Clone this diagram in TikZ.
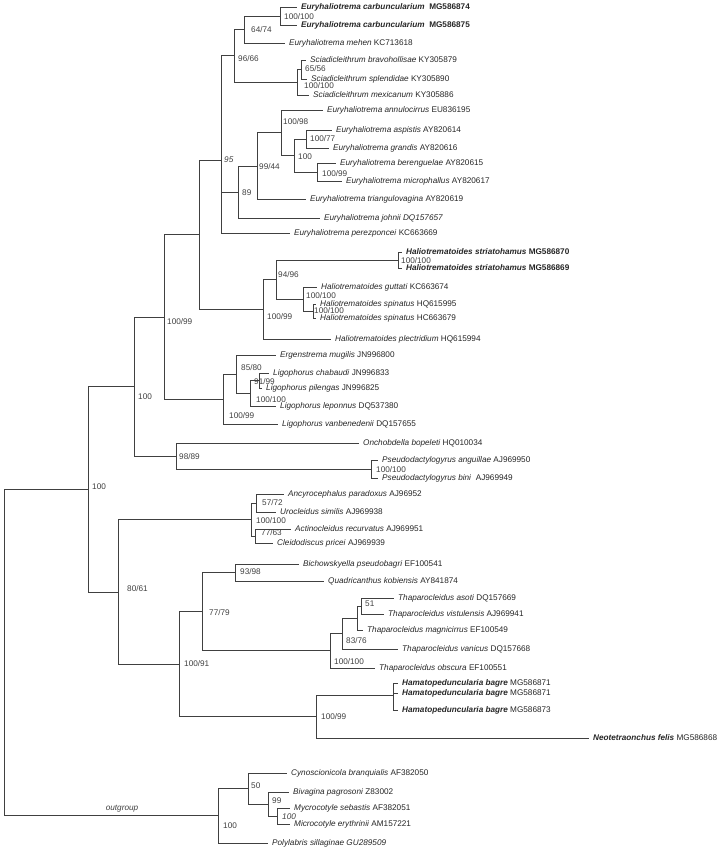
\documentclass[tikz,border=0pt]{standalone}
\usepackage{fontspec}
\setmainfont{Liberation Sans}

\begin{document}
\begin{tikzpicture}[x=1pt, y=-1pt,
    branch/.style={draw=black!75, line width=0.8pt},
    taxon/.style={anchor=west, inner xsep=4pt, inner ysep=0pt, text height=6pt, text depth=1.6pt, text=black!85, font=\fontsize{8.2}{9.8}\selectfont},
    support/.style={anchor=west, inner sep=0pt, text height=6pt, text depth=1.6pt, text=black!75, font=\fontsize{8.2}{9.8}\selectfont}]

    \useasboundingbox (0,0) rectangle (726,851);

    \node[taxon] (carb74) at (297,7) {\textbf{\textit{Euryhaliotrema carbuncularium}\ \ MG586874}};
    \node[taxon] (carb75) at (297,25) {\textbf{\textit{Euryhaliotrema carbuncularium}\ \ MG586875}};
    \node[taxon] (mehen) at (285,43) {\textit{Euryhaliotrema mehen} KC713618};
    \node[taxon] (bravo) at (306,60) {\textit{Sciadicleithrum bravohollisae} KY305879};
    \node[taxon] (splend) at (307,79) {\textit{Sciadicleithrum splendidae} KY305890};
    \node[taxon] (mexic) at (309,95) {\textit{Sciadicleithrum mexicanum} KY305886};
    \node[taxon] (annulo) at (323,110) {\textit{Euryhaliotrema annulocirrus} EU836195};
    \node[taxon] (aspist) at (332,130) {\textit{Euryhaliotrema aspistis} AY820614};
    \node[taxon] (grand) at (329,148) {\textit{Euryhaliotrema grandis} AY820616};
    \node[taxon] (bereng) at (336,163) {\textit{Euryhaliotrema berenguelae} AY820615};
    \node[taxon] (microph) at (342,181) {\textit{Euryhaliotrema microphallus} AY820617};
    \node[taxon] (triang) at (306,199) {\textit{Euryhaliotrema triangulovagina} AY820619};
    \node[taxon] (johnii) at (320,218) {\textit{Euryhaliotrema johnii DQ157657}};
    \node[taxon] (perez) at (290,233) {\textit{Euryhaliotrema perezponcei} KC663669};
    \node[taxon] (stri70) at (402,252) {\textbf{\textit{Haliotrematoides striatohamus} MG586870}};
    \node[taxon] (stri69) at (402,268) {\textbf{\textit{Haliotrematoides striatohamus} MG586869}};
    \node[taxon] (guttati) at (317,287) {\textit{Haliotrematoides guttati} KC663674};
    \node[taxon] (spin95) at (316,304) {\textit{Haliotrematoides spinatus} HQ615995};
    \node[taxon] (spin79) at (316,318) {\textit{Haliotrematoides spinatus} HC663679};
    \node[taxon] (plect) at (331,339) {\textit{Haliotrematoides plectridium} HQ615994};
    \node[taxon] (mugil) at (276,355) {\textit{Ergenstrema mugilis} JN996800};
    \node[taxon] (chabau) at (269,373) {\textit{Ligophorus chabaudi} JN996833};
    \node[taxon] (pileng) at (262,388) {\textit{Ligophorus pilengas} JN996825};
    \node[taxon] (lepon) at (276,406) {\textit{Ligophorus leponnus} DQ537380};
    \node[taxon] (vanben) at (278,424) {\textit{Ligophorus vanbenedenii} DQ157655};
    \node[taxon] (oncho) at (359,443) {\textit{Onchobdella bopeleti} HQ010034};
    \node[taxon] (anguil) at (378,460) {\textit{Pseudodactylogyrus anguillae} AJ969950};
    \node[taxon] (bini) at (378,478) {\textit{Pseudodactylogyrus bini}\ \ AJ969949};
    \node[taxon] (ancyro) at (284,494) {\textit{Ancyrocephalus paradoxus} AJ96952};
    \node[taxon] (urocl) at (276,512) {\textit{Urocleidus similis} AJ969938};
    \node[taxon] (actino) at (291,529) {\textit{Actinocleidus recurvatus} AJ969951};
    \node[taxon] (cleido) at (273,543) {\textit{Cleidodiscus pricei} AJ969939};
    \node[taxon] (bichow) at (299,564) {\textit{Bichowskyella pseudobagri} EF100541};
    \node[taxon] (quadri) at (324,581) {\textit{Quadricanthus kobiensis} AY841874};
    \node[taxon] (asoti) at (394,598) {\textit{Thaparocleidus asoti} DQ157669};
    \node[taxon] (vistul) at (384,614) {\textit{Thaparocleidus vistulensis} AJ969941};
    \node[taxon] (magnic) at (363,630) {\textit{Thaparocleidus magnicirrus} EF100549};
    \node[taxon] (vanic) at (398,649) {\textit{Thaparocleidus vanicus} DQ157668};
    \node[taxon] (obscura) at (375,668) {\textit{Thaparocleidus obscura} EF100551};
    \node[taxon] (hama71a) at (398,683) {\textbf{\textit{Hamatopeduncularia bagre}} MG586871};
    \node[taxon] (hama71b) at (398,693) {\textbf{\textit{Hamatopeduncularia bagre}} MG586871};
    \node[taxon] (hama73) at (398,710) {\textbf{\textit{Hamatopeduncularia bagre}} MG586873};
    \node[taxon] (neotet) at (589,738) {\textbf{\textit{Neotetraonchus felis}} MG586868};
    \node[taxon] (cynosc) at (287,773) {\textit{Cynoscionicola branquialis} AF382050};
    \node[taxon] (bivag) at (289,792) {\textit{Bivagina pagrosoni} Z83002};
    \node[taxon] (mycro) at (290,808) {\textit{Mycrocotyle sebastis} AF382051};
    \node[taxon] (microc) at (290,824) {\textit{Microcotyle erythrinii} AM157221};
    \node[taxon] (polyl) at (268,843) {\textit{Polylabris sillaginae GU289509}};

    \coordinate (n100a) at (280,16);
    \coordinate (n6474) at (244,29.5);
    \coordinate (nsc6556) at (301,69.5);
    \coordinate (nsc100) at (297,82.3);
    \coordinate (n9666) at (234,55.9);
    \coordinate (n10077) at (306,139);
    \coordinate (n10099e) at (317,172);
    \coordinate (n100e) at (294,155.5);
    \coordinate (n10098) at (281,132.8);
    \coordinate (n9944) at (257,165.9);
    \coordinate (n89) at (238,192);
    \coordinate (n95) at (221,160.3);
    \coordinate (nstri) at (398,260);
    \coordinate (nspin) at (313,311);
    \coordinate (ngutt) at (303,299);
    \coordinate (n9496) at (276,279.5);
    \coordinate (n10099h) at (263,309.3);
    \coordinate (nhalio) at (199,234.8);
    \coordinate (n9199) at (259,380.5);
    \coordinate (n100100l) at (250,393.3);
    \coordinate (n8580) at (236,374.1);
    \coordinate (n10099l) at (223,399);
    \coordinate (n10099b) at (164,316.9);
    \coordinate (npseudo) at (371,469);
    \coordinate (n9889) at (176,456);
    \coordinate (n100b) at (134,386.5);
    \coordinate (n5772) at (256,503);
    \coordinate (n7763) at (255,536);
    \coordinate (n100100a) at (251,519.5);
    \coordinate (n9398) at (235,572.5);
    \coordinate (n51) at (361,606);
    \coordinate (nthap) at (357,618);
    \coordinate (n8376) at (342,633.5);
    \coordinate (n100100t) at (330,650.8);
    \coordinate (n7779) at (202,611.6);
    \coordinate (nhama) at (393,695.3);
    \coordinate (n10099n) at (316,716.7);
    \coordinate (n10091) at (179,664.2);
    \coordinate (n8061) at (118,591.9);
    \coordinate (n100c) at (88,489.2);
    \coordinate (n100m) at (277,816);
    \coordinate (n99) at (268,804);
    \coordinate (n50) at (248,788.5);
    \coordinate (n100o) at (218,815.8);
    \coordinate (root) at (4,652.5);

    \draw[branch] (n100a) |- (carb74) (n100a) |- (carb75);
    \draw[branch] (n6474) |- (n100a) (n6474) |- (mehen);
    \draw[branch] (nsc6556) |- (bravo) (nsc6556) |- (splend);
    \draw[branch] (nsc100) |- (nsc6556) (nsc100) |- (mexic);
    \draw[branch] (n9666) |- (n6474) (n9666) |- (nsc100);
    \draw[branch] (n10077) |- (aspist) (n10077) |- (grand);
    \draw[branch] (n10099e) |- (bereng) (n10099e) |- (microph);
    \draw[branch] (n100e) |- (n10077) (n100e) |- (n10099e);
    \draw[branch] (n10098) |- (annulo) (n10098) |- (n100e);
    \draw[branch] (n9944) |- (n10098) (n9944) |- (triang);
    \draw[branch] (n89) |- (n9944) (n89) |- (johnii);
    \draw[branch] (n95) |- (n9666) (n95) |- (n89) (n95) |- (perez);
    \draw[branch] (nstri) |- (stri70) (nstri) |- (stri69);
    \draw[branch] (nspin) |- (spin95) (nspin) |- (spin79);
    \draw[branch] (ngutt) |- (guttati) (ngutt) |- (nspin);
    \draw[branch] (n9496) |- (nstri) (n9496) |- (ngutt);
    \draw[branch] (n10099h) |- (n9496) (n10099h) |- (plect);
    \draw[branch] (nhalio) |- (n95) (nhalio) |- (n10099h);
    \draw[branch] (n9199) |- (chabau) (n9199) |- (pileng);
    \draw[branch] (n100100l) |- (n9199) (n100100l) |- (lepon);
    \draw[branch] (n8580) |- (mugil) (n8580) |- (n100100l);
    \draw[branch] (n10099l) |- (n8580) (n10099l) |- (vanben);
    \draw[branch] (n10099b) |- (nhalio) (n10099b) |- (n10099l);
    \draw[branch] (npseudo) |- (anguil) (npseudo) |- (bini);
    \draw[branch] (n9889) |- (oncho) (n9889) |- (npseudo);
    \draw[branch] (n100b) |- (n10099b) (n100b) |- (n9889);
    \draw[branch] (n5772) |- (ancyro) (n5772) |- (urocl);
    \draw[branch] (n7763) |- (actino) (n7763) |- (cleido);
    \draw[branch] (n100100a) |- (n5772) (n100100a) |- (n7763);
    \draw[branch] (n9398) |- (bichow) (n9398) |- (quadri);
    \draw[branch] (n51) |- (asoti) (n51) |- (vistul);
    \draw[branch] (nthap) |- (n51) (nthap) |- (magnic);
    \draw[branch] (n8376) |- (nthap) (n8376) |- (vanic);
    \draw[branch] (n100100t) |- (n8376) (n100100t) |- (obscura);
    \draw[branch] (n7779) |- (n9398) (n7779) |- (n100100t);
    \draw[branch] (nhama) |- (hama71a) (nhama) |- (hama71b) (nhama) |- (hama73);
    \draw[branch] (n10099n) |- (nhama) (n10099n) |- (neotet);
    \draw[branch] (n10091) |- (n7779) (n10091) |- (n10099n);
    \draw[branch] (n8061) |- (n100100a) (n8061) |- (n10091);
    \draw[branch] (n100c) |- (n100b) (n100c) |- (n8061);
    \draw[branch] (n100m) |- (mycro) (n100m) |- (microc);
    \draw[branch] (n99) |- (bivag) (n99) |- (n100m);
    \draw[branch] (n50) |- (cynosc) (n50) |- (n99);
    \draw[branch] (n100o) |- (n50) (n100o) |- (polyl);
    \draw[branch] (root) |- (n100c) (root) |- (n100o);

    \node[support] (s100a) at (284,17) {100/100};
    \node[support] (s6474) at (251,30) {64/74};
    \node[support] (s9666) at (238,59) {96/66};
    \node[support] (s6556) at (305,69) {65/56};
    \node[support] (ssc100) at (304,86) {100/100};
    \node[support] (s10098) at (283,122) {100/98};
    \node[support] (s10077) at (310,139) {100/77};
    \node[support] (s100e) at (298,157) {100};
    \node[support] (s10099e) at (322,174) {100/99};
    \node[support] (s9944) at (259,167) {99/44};
    \node[support] (s89) at (242,193) {89};
    \node[support] (s95) at (224,160) {\textit{95}};
    \node[support] (sstri) at (401,261) {100/100};
    \node[support] (s9496) at (278,275) {94/96};
    \node[support] (sgutt) at (306,296) {100/100};
    \node[support] (sspin) at (314,311) {100/100};
    \node[support] (s10099h) at (267,317) {100/99};
    \node[support] (s10099b) at (167,322) {100/99};
    \node[support] (s8580) at (241,368) {85/80};
    \node[support] (s9199) at (254,382) {91/99};
    \node[support] (s100100l) at (256,400) {100/100};
    \node[support] (s10099l) at (229,416) {100/99};
    \node[support] (s100b) at (138,397) {100};
    \node[support] (s9889) at (179,457) {98/89};
    \node[support] (spseudo) at (376,470) {100/100};
    \node[support] (s100c) at (92,487) {100};
    \node[support] (s5772) at (262,503) {57/72};
    \node[support] (s100100a) at (256,521) {100/100};
    \node[support] (s7763) at (261,533) {77/63};
    \node[support] (s8061) at (127,589) {80/61};
    \node[support] (s9398) at (240,572) {93/98};
    \node[support] (s7779) at (209,613) {77/79};
    \node[support] (s51) at (365,604) {51};
    \node[support] (s8376) at (346,641) {83/76};
    \node[support] (s100100t) at (334,662) {100/100};
    \node[support] (s10091) at (184,664) {100/91};
    \node[support] (s10099n) at (321,717) {100/99};
    \node[support] (s50) at (251,786) {50};
    \node[support] (s99) at (272,801) {99};
    \node[support] (s100m) at (282,817) {\textit{100}};
    \node[support] (s100o) at (223,826) {100};
    \node[support, anchor=center] (outg) at (122,808) {\textit{outgroup}};
\end{tikzpicture}
\end{document}
